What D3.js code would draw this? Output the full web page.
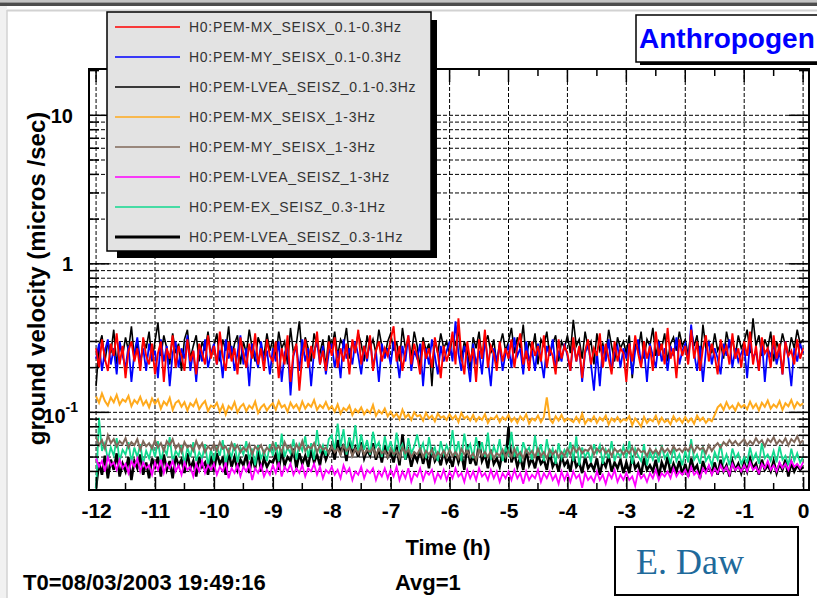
<!DOCTYPE html>
<html>
<head>
<meta charset="utf-8">
<script src="https://cdn.jsdelivr.net/npm/d3@7"></script>
<style>
body { margin: 0; background: #fff; }
svg { display: block; font-family: Arial, "Liberation Sans", Helvetica, sans-serif; }
</style>
</head>
<body>
<div id="chart"></div>
<script>
// Seismic band-limited ground velocity, last 12 hours (one sample every 0.05 h)

const sampleStep = 0.05;
const startHour = -12;

const seriesNames = [
    'H0:PEM-MX_SEISX_0.1-0.3Hz',
    'H0:PEM-MY_SEISX_0.1-0.3Hz',
    'H0:PEM-LVEA_SEISZ_0.1-0.3Hz',
    'H0:PEM-MX_SEISX_1-3Hz',
    'H0:PEM-MY_SEISX_1-3Hz',
    'H0:PEM-LVEA_SEISZ_1-3Hz',
    'H0:PEM-EX_SEISZ_0.3-1Hz',
    'H0:PEM-LVEA_SEISZ_0.3-1Hz'
];
const seriesColors = ['#ff0000', '#0000ff', '#000000', '#ffaa1d', '#80685a', '#ff00ff', '#12d98f', '#000000'];
const seriesWidths = [1.9, 1.8, 1.6, 2, 2, 1.8, 1.8, 2.5];

const mxX01 = [
    0.27,0.20,0.31,0.23,0.19,0.29,0.24,0.34,0.21,0.28, 0.17,0.26,0.30,0.22,0.27,0.19,0.32,0.24,0.21,0.29,
    0.18,0.25,0.30,0.16,0.27,0.23,0.33,0.20,0.28,0.24, 0.19,0.31,0.22,0.26,0.18,0.29,0.25,0.21,0.33,0.23,
    0.28,0.21,0.35,0.24,0.19,0.30,0.22,0.27,0.18,0.32, 0.25,0.20,0.29,0.23,0.34,0.21,0.27,0.19,0.31,0.24,
    0.22,0.30,0.17,0.27,0.21,0.33,0.16,0.25,0.29,0.14, 0.24,0.31,0.20,0.28,0.23,0.35,0.21,0.26,0.19,0.30,
    0.24,0.32,0.20,0.27,0.22,0.29,0.18,0.31,0.25,0.36, 0.21,0.28,0.23,0.33,0.19,0.26,0.30,0.22,0.27,0.24,
    0.31,0.38,0.22,0.28,0.19,0.26,0.33,0.21,0.29,0.24, 0.18,0.30,0.23,0.27,0.20,0.32,0.25,0.17,0.28,0.22,
    0.26,0.35,0.21,0.43,0.24,0.18,0.30,0.22,0.27,0.16, 0.31,0.23,0.36,0.20,0.28,0.25,0.19,0.30,0.22,0.27,
    0.23,0.31,0.20,0.28,0.34,0.21,0.26,0.19,0.30,0.24, 0.28,0.22,0.33,0.20,0.27,0.24,0.18,0.31,0.23,0.28,
    0.25,0.19,0.32,0.22,0.28,0.17,0.26,0.31,0.21,0.27, 0.24,0.34,0.20,0.29,0.23,0.18,0.30,0.22,0.27,0.25,
    0.16,0.29,0.22,0.33,0.25,0.20,0.30,0.23,0.28,0.19, 0.35,0.24,0.29,0.21,0.37,0.23,0.27,0.17,0.31,0.24,
    0.28,0.21,0.36,0.23,0.30,0.19,0.27,0.33,0.22,0.29, 0.24,0.18,0.31,0.25,0.28,0.21,0.34,0.23,0.27,0.20,
    0.30,0.24,0.35,0.21,0.28,0.19,0.32,0.25,0.27,0.20, 0.33,0.23,0.29,0.18,0.30,0.24,0.26,0.21,0.31,0.23,
    0.27
];
const myX01 = [
    0.23,0.29,0.19,0.26,0.31,0.21,0.27,0.18,0.30,0.24, 0.20,0.28,0.16,0.25,0.32,0.22,0.27,0.19,0.29,0.23,
    0.26,0.17,0.31,0.22,0.28,0.15,0.25,0.30,0.20,0.27, 0.23,0.33,0.19,0.26,0.16,0.28,0.22,0.31,0.20,0.25,
    0.29,0.21,0.26,0.17,0.31,0.23,0.28,0.19,0.25,0.33, 0.21,0.27,0.15,0.29,0.24,0.20,0.30,0.22,0.26,0.18,
    0.27,0.22,0.30,0.16,0.25,0.29,0.13,0.24,0.28,0.19, 0.31,0.22,0.27,0.15,0.26,0.30,0.21,0.28,0.18,0.25,
    0.29,0.20,0.26,0.17,0.31,0.23,0.27,0.21,0.30,0.24, 0.18,0.28,0.22,0.32,0.20,0.26,0.16,0.29,0.23,0.27,
    0.21,0.30,0.24,0.17,0.28,0.22,0.33,0.19,0.26,0.23, 0.29,0.15,0.27,0.21,0.31,0.24,0.18,0.28,0.22,0.26,
    0.30,0.22,0.41,0.25,0.19,0.28,0.23,0.16,0.29,0.21, 0.26,0.18,0.31,0.23,0.15,0.27,0.22,0.29,0.19,0.25,
    0.28,0.20,0.32,0.24,0.27,0.18,0.30,0.22,0.26,0.19, 0.29,0.23,0.17,0.28,0.24,0.31,0.20,0.26,0.22,0.29,
    0.24,0.19,0.30,0.22,0.27,0.16,0.25,0.29,0.21,0.14, 0.26,0.15,0.28,0.22,0.31,0.19,0.25,0.28,0.20,0.27,
    0.23,0.29,0.18,0.26,0.31,0.21,0.27,0.16,0.29,0.24, 0.20,0.30,0.22,0.27,0.19,0.28,0.24,0.32,0.21,0.26,
    0.29,0.22,0.39,0.25,0.19,0.28,0.16,0.26,0.30,0.21, 0.27,0.23,0.18,0.29,0.24,0.31,0.20,0.27,0.22,0.25,
    0.28,0.17,0.30,0.23,0.26,0.19,0.31,0.16,0.27,0.24, 0.29,0.21,0.26,0.18,0.30,0.23,0.15,0.27,0.22,0.29,
    0.25
];
const lveaZ01 = [
    0.15,0.28,0.33,0.22,0.30,0.25,0.36,0.21,0.29,0.24, 0.32,0.26,0.38,0.23,0.29,0.20,0.31,0.27,0.35,0.22,
    0.30,0.40,0.24,0.33,0.27,0.21,0.34,0.25,0.29,0.19, 0.31,0.36,0.23,0.28,0.33,0.22,0.30,0.26,0.35,0.24,
    0.28,0.34,0.22,0.31,0.26,0.38,0.23,0.29,0.33,0.21, 0.30,0.25,0.36,0.27,0.22,0.32,0.28,0.24,0.34,0.26,
    0.31,0.23,0.35,0.27,0.30,0.21,0.37,0.25,0.29,0.41, 0.24,0.32,0.27,0.22,0.34,0.28,0.25,0.31,0.20,0.33,
    0.27,0.35,0.24,0.31,0.28,0.37,0.23,0.30,0.26,0.34, 0.29,0.22,0.33,0.27,0.31,0.25,0.36,0.28,0.24,0.30,
    0.34,0.26,0.30,0.22,0.37,0.27,0.31,0.24,0.35,0.28, 0.20,0.32,0.26,0.29,0.15,0.31,0.25,0.34,0.27,0.30,
    0.24,0.33,0.28,0.36,0.22,0.30,0.26,0.19,0.32,0.27, 0.35,0.23,0.29,0.33,0.25,0.31,0.21,0.28,0.34,0.26,
    0.30,0.37,0.25,0.32,0.27,0.39,0.23,0.30,0.26,0.34, 0.21,0.31,0.28,0.35,0.24,0.29,0.33,0.22,0.30,0.27,
    0.33,0.25,0.42,0.28,0.31,0.23,0.35,0.27,0.30,0.21, 0.34,0.26,0.29,0.24,0.36,0.28,0.22,0.32,0.27,0.30,
    0.25,0.33,0.17,0.29,0.26,0.35,0.23,0.31,0.28,0.37, 0.24,0.30,0.27,0.34,0.22,0.29,0.32,0.26,0.35,0.28,
    0.31,0.24,0.36,0.28,0.33,0.22,0.39,0.27,0.30,0.25, 0.34,0.26,0.29,0.23,0.35,0.28,0.31,0.24,0.33,0.27,
    0.30,0.36,0.25,0.43,0.28,0.33,0.24,0.31,0.27,0.35, 0.22,0.30,0.26,0.34,0.28,0.24,0.32,0.27,0.36,0.29,
    0.31
];
const mxX13 = [
    0.128,0.116,0.134,0.119,0.111,0.126,0.117,0.131,0.113,0.122, 0.118,0.129,0.110,0.121,0.115,0.127,0.112,0.120,0.108,0.124,
    0.114,0.122,0.106,0.118,0.112,0.125,0.104,0.116,0.120,0.109, 0.117,0.103,0.115,0.110,0.121,0.105,0.113,0.119,0.102,0.111,
    0.108,0.116,0.101,0.112,0.097,0.110,0.105,0.117,0.100,0.109, 0.114,0.102,0.111,0.106,0.118,0.099,0.108,0.113,0.103,0.110,
    0.115,0.104,0.119,0.108,0.112,0.101,0.116,0.107,0.113,0.103, 0.118,0.106,0.114,0.109,0.121,0.104,0.112,0.107,0.117,0.105,
    0.110,0.101,0.113,0.098,0.107,0.103,0.111,0.096,0.105,0.100, 0.108,0.097,0.104,0.099,0.112,0.095,0.103,0.098,0.106,0.094,
    0.101,0.093,0.098,0.090,0.104,0.092,0.097,0.089,0.100,0.094, 0.096,0.088,0.099,0.091,0.095,0.087,0.098,0.092,0.094,0.089,
    0.097,0.090,0.095,0.086,0.099,0.091,0.094,0.088,0.096,0.087, 0.093,0.089,0.097,0.085,0.092,0.090,0.095,0.086,0.093,0.089,
    0.096,0.087,0.092,0.085,0.094,0.089,0.097,0.084,0.091,0.088, 0.095,0.086,0.093,0.126,0.090,0.085,0.094,0.088,0.096,0.087,
    0.091,0.089,0.086,0.093,0.086,0.098,0.084,0.090,0.087,0.094, 0.085,0.092,0.088,0.095,0.083,0.091,0.087,0.093,0.086,0.090,
    0.088,0.094,0.082,0.091,0.086,0.080,0.093,0.085,0.090,0.087, 0.095,0.084,0.092,0.086,0.089,0.083,0.094,0.087,0.091,0.085,
    0.093,0.086,0.091,0.084,0.095,0.088,0.092,0.085,0.090,0.087, 0.096,0.108,0.113,0.104,0.117,0.106,0.111,0.103,0.115,0.108,
    0.112,0.105,0.118,0.107,0.114,0.103,0.116,0.109,0.120,0.106, 0.113,0.108,0.119,0.104,0.115,0.110,0.121,0.107,0.117,0.111,
    0.115
];
const myX13 = [
    0.068,0.060,0.065,0.057,0.070,0.062,0.066,0.059,0.064,0.061, 0.067,0.058,0.063,0.060,0.066,0.056,0.064,0.059,0.062,0.057,
    0.065,0.058,0.062,0.055,0.064,0.060,0.066,0.057,0.061,0.054, 0.063,0.058,0.060,0.055,0.064,0.057,0.062,0.054,0.059,0.056,
    0.061,0.055,0.063,0.057,0.059,0.053,0.062,0.056,0.060,0.054, 0.058,0.055,0.061,0.052,0.059,0.056,0.060,0.053,0.058,0.055,
    0.062,0.056,0.059,0.054,0.063,0.057,0.060,0.053,0.061,0.056, 0.064,0.055,0.059,0.057,0.062,0.054,0.060,0.056,0.058,0.053,
    0.059,0.054,0.057,0.052,0.060,0.055,0.058,0.051,0.057,0.053, 0.059,0.052,0.056,0.054,0.058,0.051,0.057,0.053,0.055,0.050,
    0.057,0.052,0.055,0.049,0.058,0.053,0.056,0.050,0.054,0.052, 0.057,0.050,0.055,0.052,0.056,0.049,0.054,0.051,0.055,0.050,
    0.056,0.051,0.054,0.049,0.057,0.052,0.055,0.050,0.053,0.048, 0.056,0.051,0.054,0.050,0.055,0.049,0.053,0.051,0.056,0.050,
    0.055,0.050,0.057,0.051,0.054,0.049,0.056,0.052,0.055,0.050, 0.057,0.051,0.054,0.049,0.056,0.052,0.055,0.050,0.054,0.051,
    0.057,0.052,0.059,0.054,0.058,0.053,0.056,0.055,0.059,0.052, 0.057,0.054,0.058,0.053,0.056,0.051,0.057,0.054,0.056,0.052,
    0.056,0.053,0.058,0.052,0.057,0.054,0.055,0.051,0.057,0.053, 0.056,0.052,0.058,0.054,0.057,0.053,0.059,0.055,0.057,0.054,
    0.058,0.055,0.060,0.054,0.059,0.056,0.058,0.053,0.060,0.055, 0.059,0.062,0.058,0.063,0.060,0.065,0.061,0.064,0.060,0.063,
    0.066,0.060,0.064,0.061,0.067,0.062,0.065,0.059,0.066,0.063, 0.068,0.061,0.065,0.062,0.067,0.060,0.066,0.063,0.069,0.062,
    0.065
];
const lveaZ13 = [
    0.049,0.043,0.047,0.040,0.050,0.044,0.046,0.041,0.048,0.042, 0.045,0.039,0.047,0.043,0.049,0.040,0.046,0.042,0.044,0.038,
    0.046,0.041,0.048,0.039,0.045,0.042,0.047,0.040,0.044,0.038, 0.046,0.041,0.043,0.037,0.045,0.040,0.047,0.039,0.044,0.041,
    0.045,0.038,0.043,0.040,0.046,0.036,0.042,0.039,0.044,0.037, 0.043,0.040,0.045,0.035,0.042,0.039,0.044,0.037,0.041,0.038,
    0.044,0.039,0.046,0.037,0.043,0.040,0.045,0.038,0.042,0.039, 0.044,0.037,0.042,0.040,0.045,0.038,0.043,0.036,0.041,0.039,
    0.043,0.038,0.041,0.036,0.044,0.039,0.042,0.035,0.040,0.038, 0.043,0.036,0.041,0.039,0.042,0.035,0.040,0.037,0.042,0.036,
    0.041,0.037,0.043,0.035,0.040,0.036,0.042,0.034,0.039,0.037, 0.042,0.035,0.040,0.038,0.041,0.034,0.039,0.036,0.041,0.035,
    0.040,0.036,0.042,0.037,0.039,0.034,0.041,0.036,0.040,0.035, 0.042,0.037,0.039,0.035,0.041,0.036,0.040,0.034,0.039,0.036,
    0.040,0.035,0.041,0.036,0.039,0.033,0.040,0.035,0.038,0.036, 0.041,0.034,0.039,0.036,0.040,0.035,0.038,0.033,0.040,0.035,
    0.039,0.034,0.040,0.036,0.038,0.031,0.039,0.035,0.037,0.034, 0.040,0.035,0.038,0.033,0.039,0.036,0.041,0.034,0.038,0.035,
    0.039,0.035,0.037,0.032,0.040,0.036,0.038,0.034,0.039,0.036, 0.041,0.035,0.039,0.037,0.040,0.036,0.042,0.037,0.040,0.038,
    0.041,0.037,0.043,0.038,0.040,0.036,0.042,0.039,0.044,0.038, 0.042,0.039,0.044,0.040,0.043,0.038,0.045,0.041,0.043,0.040,
    0.044,0.040,0.046,0.041,0.043,0.039,0.045,0.042,0.047,0.041, 0.044,0.040,0.046,0.042,0.045,0.041,0.047,0.043,0.045,0.042,
    0.046
];
const exZ031 = [
    0.030,0.092,0.055,0.062,0.048,0.058,0.051,0.067,0.047,0.056, 0.052,0.063,0.046,0.058,0.050,0.061,0.045,0.055,0.049,0.060,
    0.050,0.064,0.047,0.057,0.052,0.068,0.046,0.055,0.051,0.060, 0.045,0.058,0.050,0.063,0.047,0.054,0.049,0.061,0.044,0.056,
    0.047,0.059,0.051,0.065,0.045,0.056,0.050,0.062,0.046,0.058, 0.052,0.064,0.048,0.057,0.044,0.060,0.049,0.055,0.047,0.061,
    0.051,0.063,0.047,0.072,0.050,0.058,0.053,0.066,0.048,0.061, 0.055,0.069,0.050,0.062,0.048,0.076,0.053,0.060,0.051,0.066,
    0.070,0.055,0.084,0.059,0.077,0.052,0.068,0.057,0.082,0.054, 0.071,0.056,0.065,0.052,0.074,0.058,0.063,0.050,0.069,0.055,
    0.064,0.051,0.073,0.056,0.061,0.048,0.067,0.053,0.059,0.071, 0.055,0.062,0.049,0.068,0.053,0.058,0.047,0.064,0.052,0.060,
    0.053,0.076,0.051,0.064,0.047,0.072,0.055,0.061,0.049,0.068, 0.054,0.063,0.050,0.073,0.048,0.059,0.052,0.066,0.047,0.058,
    0.052,0.074,0.050,0.059,0.046,0.063,0.054,0.058,0.048,0.070, 0.051,0.061,0.047,0.066,0.050,0.057,0.045,0.062,0.049,0.056,
    0.051,0.063,0.047,0.069,0.044,0.058,0.050,0.055,0.046,0.061, 0.053,0.060,0.045,0.056,0.049,0.064,0.047,0.054,0.050,0.059,
    0.049,0.064,0.045,0.057,0.051,0.047,0.061,0.044,0.054,0.048, 0.056,0.046,0.060,0.049,0.053,0.045,0.058,0.047,0.052,0.044,
    0.055,0.046,0.066,0.048,0.052,0.045,0.059,0.047,0.051,0.044, 0.054,0.048,0.061,0.046,0.052,0.044,0.057,0.049,0.053,0.045,
    0.050,0.046,0.058,0.048,0.053,0.045,0.062,0.049,0.052,0.047, 0.055,0.046,0.059,0.048,0.051,0.044,0.057,0.047,0.053,0.046,
    0.050
];
const lveaZ031 = [
    0.031,0.046,0.038,0.051,0.036,0.048,0.041,0.053,0.037,0.045, 0.040,0.050,0.035,0.047,0.042,0.052,0.038,0.046,0.036,0.049,
    0.043,0.050,0.037,0.052,0.041,0.047,0.036,0.051,0.044,0.048, 0.039,0.053,0.042,0.047,0.037,0.050,0.043,0.046,0.038,0.051,
    0.040,0.053,0.045,0.049,0.038,0.054,0.043,0.050,0.041,0.048, 0.044,0.052,0.039,0.050,0.042,0.055,0.040,0.049,0.043,0.047,
    0.046,0.052,0.041,0.055,0.044,0.050,0.047,0.057,0.042,0.053, 0.045,0.051,0.043,0.056,0.046,0.052,0.044,0.058,0.048,0.054,
    0.059,0.048,0.065,0.053,0.061,0.047,0.067,0.052,0.058,0.050, 0.063,0.049,0.056,0.051,0.062,0.048,0.057,0.046,0.060,0.050,
    0.054,0.046,0.059,0.044,0.071,0.048,0.055,0.043,0.052,0.047, 0.056,0.045,0.053,0.042,0.058,0.047,0.051,0.044,0.055,0.046,
    0.050,0.043,0.055,0.046,0.053,0.041,0.061,0.045,0.051,0.044, 0.064,0.047,0.052,0.042,0.056,0.045,0.049,0.043,0.054,0.046,
    0.080,0.046,0.053,0.043,0.050,0.041,0.056,0.044,0.049,0.042, 0.052,0.045,0.048,0.041,0.054,0.043,0.047,0.040,0.051,0.044,
    0.047,0.040,0.052,0.043,0.046,0.039,0.050,0.042,0.045,0.041, 0.049,0.038,0.047,0.043,0.051,0.040,0.046,0.042,0.048,0.039,
    0.046,0.039,0.051,0.042,0.045,0.038,0.049,0.041,0.044,0.040, 0.048,0.037,0.046,0.041,0.050,0.039,0.045,0.040,0.047,0.038,
    0.045,0.037,0.049,0.041,0.044,0.036,0.047,0.040,0.043,0.039, 0.046,0.038,0.048,0.040,0.044,0.037,0.047,0.041,0.045,0.039,
    0.046,0.040,0.049,0.042,0.045,0.038,0.048,0.041,0.044,0.040, 0.047,0.039,0.045,0.041,0.048,0.037,0.046,0.040,0.044,0.041,
    0.043
];

const seriesValues = [mxX01, myX01, lveaZ01, mxX13, myX13, lveaZ13, exZ031, lveaZ031];

const hourTicks = d3.range(-12, 1, 1);
const halfHourTicks = d3.range(-11.5, 0, 1);

// Layout
const width = 817, height = 598;
const plot = { left: 89, right: 809, top: 69, bottom: 490 };

const svg = d3.select('#chart')
    .append('svg')
    .attr('width', width)
    .attr('height', height);

svg.append('rect').attr('width', width).attr('height', height).attr('fill', '#fff');

// slide decorations round the canvas
svg.append('rect').attr('x', 0).attr('y', 0).attr('width', 7).attr('height', height).attr('fill', '#f1f1f1');
svg.append('rect').attr('x', 0).attr('y', 0).attr('width', width).attr('height', 2.5).attr('fill', '#c4c4c4');
svg.append('rect').attr('x', 0).attr('y', 2.5).attr('width', width).attr('height', 3.5).attr('fill', '#4d4d4d');
svg.append('line').attr('x1', 7).attr('x2', width).attr('y1', 10.5).attr('y2', 10.5)
    .attr('stroke', '#d2d2d2').attr('stroke-width', 2);
svg.append('line').attr('x1', 7).attr('x2', 7).attr('y1', 10).attr('y2', height)
    .attr('stroke', '#d2d2d2').attr('stroke-width', 1.5);

// Scales
const x = d3.scaleLinear().domain([-12.12, 0.1]).range([plot.left, plot.right]);
const y = d3.scaleLog().domain([0.03, 20.5]).range([plot.bottom, plot.top]);

const yTicks = y.ticks();
const isDecade = v => Math.abs(Math.log10(v) - Math.round(Math.log10(v))) < 1e-6;

// Grid
const grid = svg.append('g')
    .attr('stroke', '#000')
    .attr('stroke-width', 1)
    .attr('stroke-dasharray', '4,2');

grid.selectAll('line.h')
    .data(yTicks.filter(v => y(v) > plot.top + 2 && y(v) < plot.bottom - 1))
    .enter()
    .append('line')
    .attr('class', 'h')
    .attr('x1', plot.left).attr('x2', plot.right)
    .attr('y1', d => y(d)).attr('y2', d => y(d));

grid.selectAll('line.v')
    .data(hourTicks)
    .enter()
    .append('line')
    .attr('class', 'v')
    .attr('x1', d => x(d)).attr('x2', d => x(d))
    .attr('y1', plot.top).attr('y2', plot.bottom);

// Data lines, drawn last-to-first so the red trace sits on top
svg.append('clipPath').attr('id', 'plot-clip')
    .append('rect')
    .attr('x', plot.left).attr('y', plot.top)
    .attr('width', plot.right - plot.left).attr('height', plot.bottom - plot.top);

const line = d3.line()
    .x((d, i) => x(startHour + i * sampleStep))
    .y(d => y(d));

const order = d3.range(seriesValues.length).reverse();
svg.append('g')
    .attr('clip-path', 'url(#plot-clip)')
    .selectAll('path')
    .data(order)
    .enter()
    .append('path')
    .attr('d', k => line(seriesValues[k]))
    .attr('fill', 'none')
    .attr('stroke', k => seriesColors[k])
    .attr('stroke-width', k => seriesWidths[k])
    .attr('stroke-linejoin', 'miter');

// Frame
svg.append('rect')
    .attr('x', plot.left).attr('y', plot.top)
    .attr('width', plot.right - plot.left).attr('height', plot.bottom - plot.top)
    .attr('fill', 'none').attr('stroke', '#000').attr('stroke-width', 2);

// Ticks on all four sides (pointing inward)
const ticks = svg.append('g').attr('stroke', '#000').attr('stroke-width', 1.5);
yTicks.forEach(v => {
    const len = isDecade(v) ? 20 : 10;
    ticks.append('line').attr('x1', plot.left).attr('x2', plot.left + len).attr('y1', y(v)).attr('y2', y(v));
    ticks.append('line').attr('x1', plot.right).attr('x2', plot.right - len).attr('y1', y(v)).attr('y2', y(v));
});
halfHourTicks.forEach(h => {
    ticks.append('line').attr('x1', x(h)).attr('x2', x(h)).attr('y1', plot.bottom).attr('y2', plot.bottom - 7);
    ticks.append('line').attr('x1', x(h)).attr('x2', x(h)).attr('y1', plot.top).attr('y2', plot.top + 7);
});
hourTicks.forEach(h => {
    ticks.append('line').attr('x1', x(h)).attr('x2', x(h)).attr('y1', plot.top).attr('y2', plot.top + 13);
});

// X axis labels
const xAxis = svg.append('g')
    .attr('transform', `translate(0,${plot.bottom})`)
    .call(d3.axisBottom(x)
        .tickValues(hourTicks)
        .tickFormat(d => String(d))
        .tickSize(-13)
        .tickPadding(13));
xAxis.select('.domain').remove();
xAxis.selectAll('line').attr('stroke-width', 1.5);
xAxis.attr('font-family', null).attr('font-size', 21).attr('font-weight', 'bold');

// Y axis labels
const yLabels = svg.append('g').attr('font-size', 20).attr('font-weight', 'bold').attr('text-anchor', 'end');
yLabels.append('text').attr('x', 73).attr('y', y(10)).attr('dy', '0.36em').text('10');
yLabels.append('text').attr('x', 73).attr('y', y(1)).attr('dy', '0.36em').text('1');
const tenth = yLabels.append('text').attr('x', 78).attr('y', y(0.1) + 3.5).attr('dy', '0.36em');
tenth.append('tspan').text('10');
tenth.append('tspan').attr('dy', -11).attr('font-size', 14).text('-1');

// Axis titles
svg.append('text')
    .attr('transform', `translate(45,${(plot.top + plot.bottom) / 2 - 1}) rotate(-90)`)
    .attr('text-anchor', 'middle')
    .attr('font-size', 24)
    .attr('font-weight', 'bold')
    .text('ground velocity (micros /sec)');

svg.append('text')
    .attr('x', 448).attr('y', 555)
    .attr('text-anchor', 'middle')
    .attr('font-size', 22)
    .attr('font-weight', 'bold')
    .text('Time (h)');

svg.append('text')
    .attr('x', 23).attr('y', 590)
    .attr('font-size', 22).attr('font-weight', 'bold')
    .text('T0=08/03/2003 19:49:16');

svg.append('text')
    .attr('x', 395).attr('y', 590)
    .attr('font-size', 22).attr('font-weight', 'bold')
    .text('Avg=1');

// Legend
const legend = { x: 107, y: 12, w: 324, h: 239, row: 30 };
svg.append('rect')
    .attr('x', legend.x + 10).attr('y', legend.y + 8)
    .attr('width', legend.w - 4).attr('height', legend.h - 1)
    .attr('fill', '#000');
svg.append('rect')
    .attr('x', legend.x).attr('y', legend.y)
    .attr('width', legend.w).attr('height', legend.h)
    .attr('fill', '#e3e3e3').attr('stroke', '#000').attr('stroke-width', 1.5);

const entries = svg.append('g')
    .selectAll('g')
    .data(seriesNames)
    .enter()
    .append('g')
    .attr('transform', (d, i) => `translate(${legend.x}, ${legend.y + 15 + i * legend.row})`);
entries.append('line')
    .attr('x1', 8).attr('x2', 73)
    .attr('stroke', (d, i) => seriesColors[i])
    .attr('stroke-width', (d, i) => i === 7 ? 3 : 1.3);
entries.append('text')
    .attr('x', 82).attr('dy', '0.36em')
    .attr('font-size', 14)
    .attr('letter-spacing', 0.7)
    .attr('fill', '#333')
    .text(d => d);

// Title box (runs off the right edge)
svg.append('rect').attr('x', 640).attr('y', 19).attr('width', 200).attr('height', 46).attr('fill', '#000');
svg.append('rect').attr('x', 636).attr('y', 15).attr('width', 200).attr('height', 47)
    .attr('fill', '#fff').attr('stroke', '#000').attr('stroke-width', 1.5);
svg.append('text')
    .attr('x', 639).attr('y', 48)
    .attr('font-size', 28).attr('font-weight', 'bold')
    .attr('fill', '#0000ff')
    .text('Anthropogen');

// Author box
svg.append('rect')
    .attr('x', 615).attr('y', 527).attr('width', 183).attr('height', 68)
    .attr('fill', '#fff').attr('stroke', '#000').attr('stroke-width', 2);
svg.append('text')
    .attr('x', 636).attr('y', 574)
    .attr('font-family', '"Liberation Serif", "Times New Roman", serif')
    .attr('font-size', 36)
    .attr('fill', '#1f6a9b')
    .text('E. Daw');
</script>
</body>
</html>
